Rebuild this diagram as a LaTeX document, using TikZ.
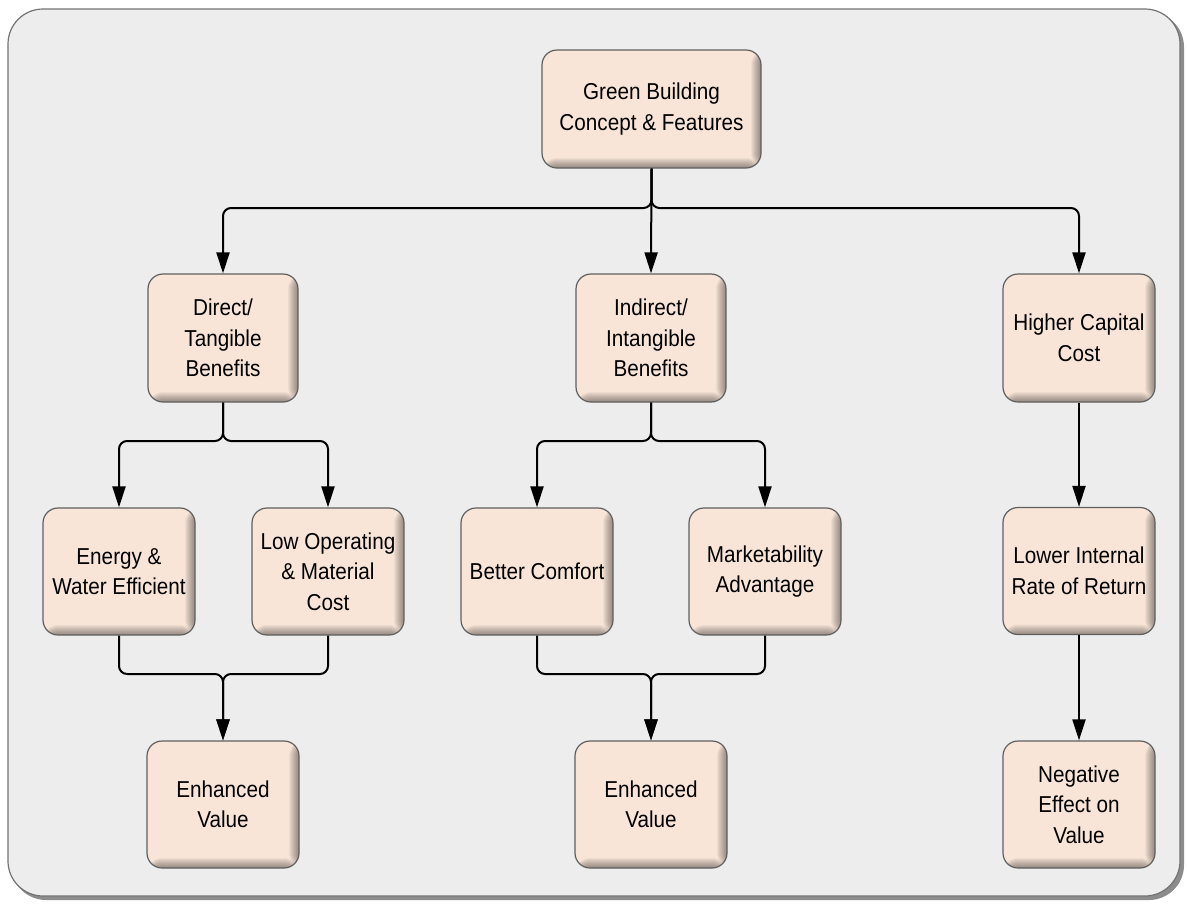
\documentclass[tikz,border=0pt]{standalone}
\usepackage{fontspec}
\setmainfont{Liberation Sans}
\newfontfamily\boxfont[FakeStretch=0.9]{Liberation Sans}
\usepackage{tikz}
\usetikzlibrary{arrows.meta,calc,positioning}

\definecolor{boxfill}{RGB}{248,229,216}
\definecolor{boxline}{RGB}{95,95,95}
\definecolor{panel}{RGB}{237,237,237}

\tikzset{
  benefit/.style={draw=boxline, line width=1.2pt, fill=boxfill, rounded corners=15pt,
    minimum width=152pt, minimum height=127pt, align=center, inner sep=1pt,
    font=\boxfont\fontsize{23}{30.5}\selectfont,
    path picture={
      % inner bevel on the right and bottom edge
      \foreach \i in {1,...,10}{
        \fill[black, opacity=0.045]
          ($(path picture bounding box.north east)+(-\i,0)$) rectangle (path picture bounding box.south east);
        \fill[black, opacity=0.045]
          ($(path picture bounding box.south west)+(0,-\i)$) rectangle (path picture bounding box.south east);
      }
    }},
  link/.style={line width=2pt, rounded corners=8pt, -{Triangle[length=21pt,width=13pt]}}
}

\begin{document}
\begin{tikzpicture}[x=1pt,y=-1pt]
  \useasboundingbox (0,0) rectangle (1187,903);

  %Panel with shadow
  \fill[black!45, rounded corners=35pt] (11,12) rectangle (1184,900);
  \draw[draw=black!55, fill=panel, line width=1.2pt, rounded corners=35pt] (8,9) rectangle (1180,896);

  % Top box
  \node[benefit, minimum width=219pt, minimum height=118pt] (green) at (651.5,109) {Green Building\\Concept \& Features};

  % Second row
  \node[benefit, minimum width=150pt, minimum height=128pt] (direct) at (223,338) {Direct/\\Tangible\\Benefits};
  \node[benefit, minimum width=150pt, minimum height=128pt] (indirect) at (651,338) {Indirect/\\Intangible\\Benefits};
  \node[benefit, minimum height=128pt] (capital) at (1079,338) {Higher Capital\\Cost};

  % Third row
  \node[benefit] (energy) at (119,571.5) {Energy \&\\Water Efficient};
  \node[benefit] (lowcost) at (328,571.5) {Low Operating\\\& Material\\Cost};
  \node[benefit] (comfort) at (537,571.5) {Better Comfort};
  \node[benefit] (market) at (765,571.5) {Marketability\\Advantage};
  \node[benefit] (irr) at (1079,571) {Lower Internal\\Rate of Return};

  % Bottom row
  \node[benefit] (valueA) at (223,804.5) {Enhanced\\Value};
  \node[benefit] (valueB) at (651,804.5) {Enhanced\\Value};
  \node[benefit] (negative) at (1079,804.5) {Negative\\Effect on\\Value};

  % Split and merge points
  \coordinate (split1) at (651,208);
  \coordinate (split2) at (223,441);
  \coordinate (split3) at (651,441);
  \coordinate (merge1) at (223,674);
  \coordinate (merge2) at (651,674);

  % Connectors
  \draw[link] (green.south) |- (split1 -| direct.north) -- (direct.north);
  \draw[link] (green.south) -- (indirect.north);
  \draw[link] (green.south) |- (split1 -| capital.north) -- (capital.north);

  \draw[link] (direct.south) |- (split2 -| energy.north) -- (energy.north);
  \draw[link] (direct.south) |- (split2 -| lowcost.north) -- (lowcost.north);
  \draw[link] (indirect.south) |- (split3 -| comfort.north) -- (comfort.north);
  \draw[link] (indirect.south) |- (split3 -| market.north) -- (market.north);

  \draw[link] (energy.south) |- (merge1) -- (valueA.north);
  \draw[link] (lowcost.south) |- (merge1) -- (valueA.north);
  \draw[link] (comfort.south) |- (merge2) -- (valueB.north);
  \draw[link] (market.south) |- (merge2) -- (valueB.north);

  \draw[link] (capital) -- (irr);
  \draw[link] (irr) -- (negative);
\end{tikzpicture}
\end{document}
